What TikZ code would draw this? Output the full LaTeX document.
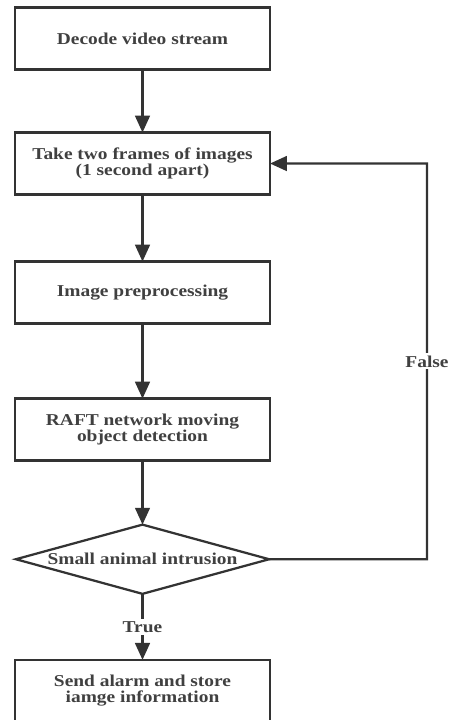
\documentclass[tikz,border=0pt]{standalone}
\usepackage{fontspec}
\setmainfont{Liberation Serif}[FakeStretch=1.17]
\usepackage{tikz}
\usetikzlibrary{shapes.geometric, arrows.meta, positioning}
\definecolor{flowgray}{RGB}{51, 51, 51}
\definecolor{textgray}{RGB}{64, 64, 64}

\begin{document}
\begin{tikzpicture}[
    x=0.025cm, y=-0.025cm,
    node distance=1.6cm,
    box/.style={rectangle, draw=flowgray, line width=1.6pt, outer sep=0pt, minimum width=6.375cm, minimum height=1.55cm, text centered, align=center, text=textgray, font=\fontsize{11.8}{11.4}\selectfont\bfseries},
    decision/.style={diamond, draw=flowgray, line width=1.6pt, outer sep=0pt, minimum width=6.33cm, minimum height=1.73cm, shape aspect=3.66, inner sep=0pt, text=textgray, font=\fontsize{11.8}{11.4}\selectfont\bfseries},
    arrow/.style={-{Triangle[length=12pt, width=10.5pt]}, line width=1.6pt, flowgray},
    tag/.style={fill=white, inner sep=1.5pt, text=textgray, font=\fontsize{11.8}{11.4}\selectfont\bfseries}
]
\useasboundingbox (0,0) rectangle (448,720);

\node[box] (decode) at (142.5,38.5) {Decode video stream};
\node[box, below=1.575cm of decode] (frames) {Take two frames of images\\(1 second apart)};
\node[box, below=1.675cm of frames] (prep) {Image preprocessing};
\node[box, below=1.875cm of prep] (raft) {RAFT network moving\\object detection};
\node[decision, below=of raft] (check) {Small animal intrusion};
\node[box, below=1.65cm of check] (alarm) {Send alarm and store\\iamge information};
\coordinate (loop) at (427,163.5);

\draw[arrow] (decode) -- (frames);
\draw[arrow] (frames) -- (prep);
\draw[arrow] (prep) -- (raft);
\draw[arrow] (raft) -- (check);
\draw[arrow] (check) -- node[tag] {True} (alarm);
\draw[arrow] (check.east) -| node[tag, pos=0.75] {False} (loop) -- (frames.east);

\end{tikzpicture}
\end{document}
